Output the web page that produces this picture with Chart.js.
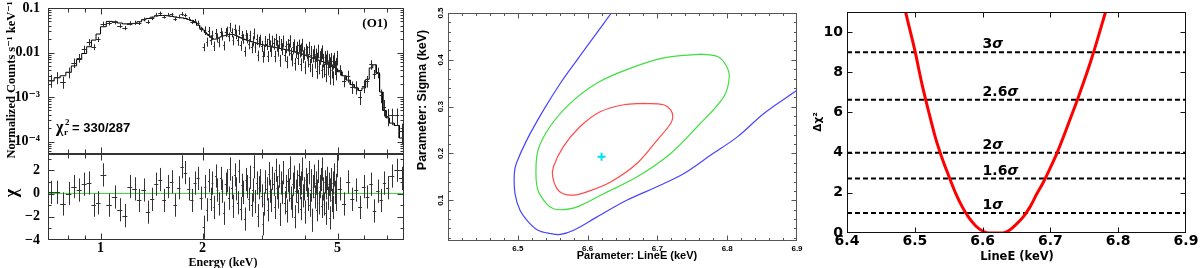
<!DOCTYPE html>
<html><head><meta charset="utf-8">
<script src="https://cdn.jsdelivr.net/npm/chart.js@4/dist/chart.umd.min.js"></script>
<style>
html,body{margin:0;padding:0;background:#fff;}
#wrap{position:relative;width:1200px;height:268px;overflow:hidden;background:#fff;}
canvas{position:absolute;}
</style></head><body>
<div id="wrap">
<canvas id="c2" width="410" height="114" style="left:0;top:154px;"></canvas>
<canvas id="c1" width="410" height="168" style="left:0;top:0;"></canvas>
<canvas id="c3" width="400" height="268" style="left:410px;top:0;"></canvas>
<canvas id="c4" width="390" height="268" style="left:810px;top:0;"></canvas>
</div>
<script>
// ---------------- DATA ----------------
// Panel 1: spectrum bins (keV edges)
const binEdges = [0.70,0.73,0.76,0.79,0.82,0.85,0.88,0.91,0.94,0.97,
 1.00,1.04,1.08,1.12,1.16,1.20,1.24,1.28,1.32,1.36,1.40,1.44,1.48,1.52,1.56,1.60,1.64,1.68,1.72,1.76,1.80,1.84,1.88,1.92,1.96,
 2.000,2.025,2.050,2.075,2.100,2.125,2.150,2.175,2.200,2.225,
 2.250,2.275,2.300,2.325,2.350,2.375,2.400,2.425,2.450,2.475,
 2.500,2.525,2.550,2.575,2.600,2.625,2.650,2.675,2.700,2.725,
 2.750,2.775,2.800,2.825,2.850,2.875,2.900,2.925,2.950,2.975,
 3.000,3.025,3.050,3.075,3.100,3.125,3.150,3.175,3.200,3.225,
 3.250,3.275,3.300,3.325,3.350,3.375,3.400,3.425,3.450,3.475,
 3.500,3.525,3.550,3.575,3.600,3.625,3.650,3.675,3.700,3.725,
 3.750,3.775,3.800,3.825,3.850,3.875,3.900,3.925,3.950,3.975,
 4.000,4.025,4.050,4.075,4.100,4.125,4.150,4.175,4.200,4.225,
 4.250,4.275,4.300,4.325,4.350,4.375,4.400,4.425,4.450,4.475,
 4.500,4.525,4.550,4.575,4.600,4.625,4.650,4.675,4.700,4.725,
 4.750,4.775,4.800,4.825,4.850,4.875,4.900,4.925,4.950,4.975,
 5.00,5.15,5.30,5.45,5.60,5.75,5.90,6.05,6.20,6.35,6.50,6.65,6.80,6.95,
 7.10,7.35,7.60,7.85];
// model (counts s^-1 keV^-1), one per bin
const modelFlux = [2.3e-3,2.7e-3,3.0e-3,3.6e-3,5.0e-3,7.0e-3,9.5e-3,0.0135,0.019,0.026,
 0.038,0.050,0.049,0.046,0.044,0.043,0.045,0.049,0.054,0.058,0.062,0.066,0.068,0.068,0.067,0.065,0.063,0.061,0.060,0.058,0.055,0.052,0.047,0.041,0.035,
 0.032,0.028,0.026,0.024,0.022,0.0205,0.020,0.020,0.0205,0.0215,
 0.0225,0.0232,0.0238,0.0243,0.0248,0.0252,0.0255,0.0255,0.0252,0.0247,
 0.0240,0.0231,0.0224,0.0216,0.0209,0.0202,0.0197,0.0192,0.0187,0.0183,
 0.0179,0.0175,0.0172,0.0168,0.0165,0.0162,0.0159,0.0156,0.0153,0.0151,
 0.0149,0.0147,0.0144,0.0142,0.0140,0.0138,0.0137,0.0135,0.0134,0.0132,
 0.0131,0.0129,0.0128,0.0126,0.0125,0.0123,0.0122,0.0121,0.0120,0.0118,
 0.0117,0.0115,0.0114,0.0112,0.0111,0.0109,0.0108,0.0106,0.0105,0.0103,
 0.0102,0.0100,0.0099,0.0098,0.0097,0.0095,0.0094,0.0092,0.0091,0.0089,
 0.0088,0.0086,0.0085,0.0083,0.0082,0.0080,0.0079,0.0077,0.0076,0.0074,
 0.0073,0.0072,0.0071,0.0070,0.0069,0.0068,0.0067,0.0066,0.0065,0.0064,
 0.0063,0.0062,0.0061,0.0060,0.0059,0.0057,0.0056,0.0055,0.0054,0.0053,
 0.0052,0.0051,0.0050,0.0049,0.0048,0.0047,0.0046,0.0045,0.0044,0.0043,
 0.0037,0.0030,0.0024,0.0019,0.0016,0.0014,0.0016,0.0025,0.0045,0.0053,0.0034,0.0013,5.0e-4,3.4e-4,
 2.6e-4,2.3e-4,1.2e-4];
// observed data points
const obsFlux = [2.37e-3,2.78e-3,2.19e-3,3.6e-3,5.9e-3,7.6e-3,0.0118,0.0171,0.0133,0.0198,
 0.0441,0.045,0.0475,0.0396,0.0356,0.0456,0.0468,0.0461,0.0556,0.0487,0.0589,0.0713,0.0762,0.0639,0.071,0.0715,0.0567,0.0641,0.0738,0.0684,0.0572,0.0489,0.0512,0.0463,0.0336,
 0.0134,0.0317,0.0176,0.0303,0.0194,0.0249,0.0142,0.0272,0.0219,0.0170,
 0.0292,0.0243,0.0145,0.0288,0.0311,0.0229,0.0378,0.0284,0.0188,0.0342,
 0.0263,0.0187,0.0326,0.0146,0.0246,0.0207,0.0108,0.0252,0.0216,0.0159,
 0.0244,0.0130,0.0185,0.0272,0.0134,0.0201,0.0087,0.0177,0.0198,0.0143,
 0.0082,0.0110,0.0184,0.0158,0.0085,0.0206,0.0145,0.0112,0.0185,0.0163,
 0.0085,0.0204,0.0147,0.0115,0.0181,0.0068,0.0155,0.0125,0.0185,0.0090,
 0.0138,0.0063,0.0153,0.0122,0.0187,0.0096,0.0071,0.0132,0.0151,0.0057,
 0.0108,0.0132,0.0077,0.0148,0.0113,0.0056,0.0121,0.0154,0.0085,0.0100,
 0.0048,0.0119,0.0105,0.0069,0.0131,0.0054,0.0087,0.0105,0.0042,0.0089,
 0.0109,0.0065,0.0092,0.0039,0.0074,0.0112,0.0049,0.0080,0.0092,0.0040,
 0.0108,0.0070,0.0042,0.0080,0.0033,0.0067,0.0082,0.0047,0.0069,0.0029,
 0.0058,0.0072,0.0040,0.0064,0.0028,0.0073,0.0048,0.0037,0.0055,0.0080,
 0.0041,0.0023,0.0030,0.0017,0.0017,0.0010,0.0018,0.0023,0.0054,0.0033,0.0036,0.0011,6.1e-4,3.8e-4,
 3.9e-4,3.9e-4,1.7e-4];
// relative 1-sigma errors of data points
const fluxRelErr = [0.32,0.30,0.30,0.27,0.24,0.22,0.20,0.17,0.15,0.13,
 0.12,0.10,0.10,0.11,0.11,0.11,0.11,0.10,0.10,0.10,0.09,0.09,0.09,0.09,0.09,0.09,0.10,0.10,0.10,0.10,0.10,0.11,0.11,0.12,0.13,
 0.20,0.22,0.23,0.24,0.24,0.24,0.24,0.24,0.23,0.23,
 0.23,0.23,0.23,0.23,0.23,0.23,0.23,0.23,0.23,0.24,
 0.24,0.24,0.24,0.25,0.25,0.25,0.25,0.26,0.26,0.26,
 0.26,0.26,0.26,0.27,0.27,0.27,0.27,0.27,0.27,0.28,
 0.28,0.28,0.28,0.28,0.28,0.29,0.29,0.29,0.29,0.29,
 0.29,0.29,0.29,0.30,0.30,0.30,0.30,0.30,0.30,0.30,
 0.30,0.30,0.31,0.31,0.31,0.31,0.31,0.31,0.31,0.31,
 0.31,0.32,0.32,0.32,0.32,0.32,0.32,0.32,0.32,0.32,
 0.32,0.32,0.33,0.33,0.33,0.33,0.33,0.33,0.33,0.33,
 0.33,0.33,0.33,0.34,0.34,0.34,0.34,0.34,0.34,0.34,
 0.34,0.34,0.34,0.34,0.35,0.35,0.35,0.35,0.35,0.35,
 0.35,0.35,0.35,0.35,0.35,0.35,0.35,0.36,0.36,0.36,
 0.26,0.28,0.30,0.31,0.33,0.34,0.32,0.29,0.24,0.23,0.27,0.34,0.40,0.42,
 0.40,0.42,0.48];
// residuals (chi)
const chiResid = [0.1,0.1,-0.9,0.0,0.6,0.3,0.8,0.9,-1.0,-0.8,
 1.6,-1.0,-0.3,-1.4,-1.9,0.6,0.4,-0.6,0.3,-1.6,-0.5,0.8,1.2,-0.6,0.6,1.0,-1.0,0.5,2.3,1.8,0.4,-0.6,0.9,1.3,-0.4,
 -2.9,0.6,-1.4,1.1,-0.5,0.9,-1.2,1.5,0.3,-0.9,
 1.3,0.2,-1.7,0.8,1.1,-0.4,2.1,0.5,-1.1,1.6,
 0.4,-0.8,1.9,-1.3,0.7,0.1,-2.2,1.2,0.6,-0.5,
 1.4,-1.0,0.3,2.3,-0.7,0.9,-1.9,0.5,1.1,-0.2,
 -2.6,-0.9,1.0,0.4,-1.4,1.7,0.2,-0.6,1.3,0.8,
 -1.2,2.0,0.5,-0.3,1.5,-1.8,0.9,0.1,1.8,-0.8,
 0.6,-1.5,1.1,0.3,2.2,-0.4,-1.1,0.8,1.4,-2.0,
 0.2,1.0,-0.7,1.6,0.5,-1.3,0.9,2.1,-0.2,0.4,
 -1.6,1.2,0.7,-0.5,1.8,-1.0,0.3,1.1,-2.3,0.6,
 1.5,-0.3,0.9,-1.4,0.2,1.9,-0.8,0.6,1.2,-1.1,
 2.1,0.4,-0.9,1.0,-1.7,0.5,1.3,-0.4,0.8,-2.1,
 0.3,1.2,-0.6,0.9,-1.2,1.6,0.1,-0.5,0.7,2.4,
 0.4,-0.9,1.0,-0.5,0.3,-1.2,0.6,-0.3,0.8,-1.5,0.2,-0.6,0.9,0.5,
 1.5,2.0,1.3];
const specXTicks = [1,2,5], specXLabels = ['1','2','5'];
const specXMinor = [0.8,0.9,3,4,6,7];
const specYTicks = [1e-4,1e-3,1e-2,1e-1], specYLabels = ['10\u207B\u2074','10\u207B\u00B3','0.01','0.1'];
const residYTicks = [-4,-2,0,2], residYLabels = ['\u22124','\u22122','0','2'];
const residYMinor = [-3,-1,1,3];

// Panel 2: confidence contours (LineE keV, Sigma keV)
const blueE = [6.634,6.613,6.585,6.561,6.537,6.513,6.498,6.495,6.496,6.503,6.515,6.529,6.546,6.561,6.580,6.613,6.656,6.704,6.738,6.776,6.815,6.853,6.901];
const blueS = [0.500,0.457,0.400,0.350,0.293,0.229,0.179,0.157,0.114,0.079,0.054,0.036,0.029,0.027,0.036,0.064,0.100,0.132,0.157,0.196,0.236,0.286,0.336];
const greenE = [6.762,6.709,6.656,6.613,6.575,6.546,6.529,6.526,6.529,6.541,6.551,6.565,6.585,6.623,6.671,6.719,6.757,6.795,6.803,6.798,6.786,6.762];
const greenS = [0.412,0.404,0.379,0.350,0.307,0.257,0.207,0.157,0.121,0.093,0.082,0.080,0.086,0.114,0.150,0.200,0.257,0.321,0.364,0.389,0.407,0.412];
const redE = [6.680,6.652,6.618,6.589,6.565,6.551,6.550,6.556,6.565,6.580,6.599,6.633,6.671,6.700,6.719,6.722,6.719,6.709,6.680];
const redS = [0.307,0.304,0.289,0.257,0.214,0.171,0.150,0.125,0.114,0.111,0.118,0.139,0.179,0.229,0.264,0.279,0.293,0.304,0.307];
const bestE = [6.62], bestS = [0.193];
const contXTicks = [6.5,6.6,6.7,6.8,6.9], contXLabels = ['6.5','6.6','6.7','6.8','6.9'];
const contYTicks = [0.1,0.2,0.3,0.4,0.5], contYLabels = ['0.1','0.2','0.3','0.4','0.5'];

// Panel 3: delta chi^2 vs LineE
const scanE = [6.485,6.49,6.50,6.51,6.52,6.53,6.54,6.55,6.56,6.57,6.58,6.59,6.60,6.61,6.62,6.63,6.64,6.65,6.66,6.67,6.68,6.69,6.70,6.71,6.72,6.73,6.74,6.75,6.76,6.77,6.78,6.785];
const scanD = [11.2,10.5,9.1,7.5,6.1,4.8,3.75,2.85,2.0,1.3,0.75,0.35,0.1,0.0,0.0,0.0,0.15,0.45,0.8,1.3,1.95,2.55,3.25,4.0,4.85,5.75,6.65,7.6,8.6,9.7,10.85,11.4];
const sigmaLevels = [1,2.71,4,6.63,9];
const sigmaNames = ['1','1.6','2','2.6','3'];
const dchiXTicks = [6.4,6.5,6.6,6.7,6.8,6.9], dchiXLabels = ['6.4','6.5','6.6','6.7','6.8','6.9'];
const dchiYTicks = [0,2,4,6,8,10], dchiYLabels = ['0','2','4','6','8','10'];

// ---------------- HELPERS ----------------
Chart.defaults.animation = false;
Chart.defaults.responsive = false;
Chart.defaults.devicePixelRatio = 1;
Chart.defaults.plugins.legend.display = false;
Chart.defaults.plugins.tooltip.enabled = false;
Chart.defaults.events = [];
Chart.defaults.color = '#000';

const setTicks = vals => ax => { ax.ticks = vals.map(v => ({value: v})); };
const seq = (a, b, s) => { const r = []; for (let v = a; v <= b + 1e-9; v += s) r.push(+v.toFixed(6)); return r; };
const fitW = w => s => { s.width = w; s.paddingTop = 0; s.paddingBottom = 0; s.paddingLeft = 0; s.paddingRight = 0; };
const fitH = h => s => { s.height = h; s.paddingTop = 0; s.paddingBottom = 0; s.paddingLeft = 0; s.paddingRight = 0; };

const frameTicks = {
  id: 'frameTicks',
  afterDatasetsDraw(chart, args, o) {
    if (!o || !o.on) return;
    const {ctx, chartArea: a} = chart;
    const xs = chart.scales.x, ys = chart.scales.y;
    const L = Math.round(a.left) + 0.5, R = Math.round(a.right) - 0.5, T = Math.round(a.top) + 0.5, B = Math.round(a.bottom) - 0.5;
    ctx.save();
    ctx.strokeStyle = o.color; ctx.lineWidth = o.lw || 1;
    ctx.beginPath();
    for (const t of o.xt) for (const v of t.v) {
      const p = Math.round(xs.getPixelForValue(v)) + 0.5;
      if (p < L - 0.6 || p > R + 0.6) continue;
      ctx.moveTo(p, B); ctx.lineTo(p, B - t.len);
      ctx.moveTo(p, T); ctx.lineTo(p, T + t.len);
    }
    for (const t of o.yt) for (const v of t.v) {
      const p = Math.round(ys.getPixelForValue(v)) + 0.5;
      if (p < T - 0.6 || p > B + 0.6) continue;
      ctx.moveTo(L, p); ctx.lineTo(L + t.len, p);
      ctx.moveTo(R, p); ctx.lineTo(R - t.len, p);
    }
    ctx.stroke();
    ctx.strokeRect(L, T, R - L, B - T);
    ctx.restore();
  }
};

const errBars = {
  id: 'errBars',
  afterDatasetsDraw(chart, args, o) {
    if (!o || !o.on) return;
    const {ctx, chartArea: a} = chart;
    const x = chart.scales.x, y = chart.scales.y;
    const pts = chart.data.datasets[0].data;
    ctx.save();
    ctx.beginPath(); ctx.rect(a.left, a.top, a.right - a.left, a.bottom - a.top); ctx.clip();
    ctx.strokeStyle = o.color; ctx.lineWidth = 1;
    ctx.beginPath();
    for (const p of pts) {
      const xc = Math.round(x.getPixelForValue(p.x)) + 0.5;
      const yc = Math.round(y.getPixelForValue(p.y)) + 0.5;
      ctx.moveTo(x.getPixelForValue(p.lo), yc); ctx.lineTo(x.getPixelForValue(p.hi), yc);
      ctx.moveTo(xc, y.getPixelForValue(p.y + p.e)); ctx.lineTo(xc, y.getPixelForValue(p.y - p.e));
    }
    ctx.stroke();
    ctx.restore();
  }
};

function rotText(ctx, txt, x, y, font) {
  ctx.save(); ctx.translate(x, y); ctx.rotate(-Math.PI / 2);
  ctx.font = font; ctx.textAlign = 'center'; ctx.textBaseline = 'middle';
  ctx.fillText(txt, 0, 0); ctx.restore();
}

const binsLo = binEdges.slice(0, -1), binsHi = binEdges.slice(1);
const serif = '"Liberation Serif", "DejaVu Serif", serif';
const sans = '"Liberation Sans", Arial, sans-serif';

// ---------------- PANEL 1 TOP: spectrum ----------------
const specPts = obsFlux.map((f, i) => ({x: (binsLo[i] + binsHi[i]) / 2, y: f, lo: binsLo[i], hi: binsHi[i], e: f * fluxRelErr[i]}));
const modelPts = [];
modelFlux.forEach((m, i) => { modelPts.push({x: binsLo[i], y: m}, {x: binsHi[i], y: m}); });

new Chart(document.getElementById('c1'), {
  type: 'scatter',
  data: {datasets: [
    {data: specPts, pointRadius: 0, showLine: false},
    {data: modelPts, showLine: true, borderColor: '#000', borderWidth: 1, pointRadius: 0, tension: 0}
  ]},
  options: {
    layout: {padding: {left: 0, top: 8, right: 6, bottom: 14}},
    scales: {
      x: {type: 'logarithmic', min: 0.7, max: 7.85, display: false},
      y: {type: 'logarithmic', min: 5.25e-5, max: 0.1,
          afterFit: fitW(48),
          afterBuildTicks: setTicks(specYTicks),
          grid: {display: false, drawTicks: false}, border: {display: false},
          ticks: {autoSkip: false, padding: 8, font: {family: serif, size: 14, weight: 'bold'}, callback: (v, i) => specYLabels[i]}}
    },
    plugins: {
      frameTicks: {on: true, color: '#333',
        xt: [{v: specXTicks, len: 6}, {v: specXMinor, len: 4}],
        yt: [{v: specYTicks, len: 6}, {v: [6e-5,7e-5,8e-5,9e-5,2e-4,3e-4,4e-4,5e-4,6e-4,7e-4,8e-4,9e-4,2e-3,3e-3,4e-3,5e-3,6e-3,7e-3,8e-3,9e-3,0.02,0.03,0.04,0.05,0.06,0.07,0.08,0.09], len: 3}]},
      errBars: {on: true, color: '#2a2a2a'}
    }
  },
  plugins: [frameTicks, errBars, {
    id: 'txt1',
    afterDraw(chart) {
      const ctx = chart.ctx;
      ctx.save();
      ctx.fillStyle = '#000';
      rotText(ctx, 'Normalized Counts s\u207B\u00B9 keV\u207B\u00B9', 12, 80, 'bold 12.5px ' + serif);
      ctx.font = 'bold 13px ' + serif; ctx.textAlign = 'center'; ctx.textBaseline = 'middle';
      ctx.fillText('(O1)', 375, 24);
      ctx.textAlign = 'left'; ctx.textBaseline = 'alphabetic';
      ctx.font = 'bold 16px ' + serif; ctx.fillText('\u03C7', 56, 132);
      ctx.font = 'bold 9px ' + serif; ctx.fillText('r', 64, 135); ctx.fillText('2', 65, 125);
      ctx.font = 'bold 13px ' + sans; ctx.fillText('= 330/287', 72, 132);
      ctx.restore();
    }
  }]
});

// ---------------- PANEL 1 BOTTOM: residuals ----------------
const residPts = chiResid.map((r, i) => ({x: (binsLo[i] + binsHi[i]) / 2, y: r, lo: binsLo[i], hi: binsHi[i], e: 1}));
new Chart(document.getElementById('c2'), {
  type: 'scatter',
  data: {datasets: [
    {data: residPts, pointRadius: 0, showLine: false},
    {data: [{x: 0.7, y: 0}, {x: 7.85, y: 0}], showLine: true, borderColor: '#3ddc3d', borderWidth: 1, pointRadius: 0}
  ]},
  options: {
    layout: {padding: {left: 0, top: 0, right: 6, bottom: 0}},
    scales: {
      x: {type: 'logarithmic', min: 0.7, max: 7.85,
          afterFit: fitH(28),
          afterBuildTicks: setTicks(specXTicks),
          grid: {display: false, drawTicks: false}, border: {display: false},
          ticks: {autoSkip: false, maxRotation: 0, padding: 0, font: {family: serif, size: 14, weight: 'bold'}, callback: (v, i) => specXLabels[i]}},
      y: {type: 'linear', min: -4, max: 3.4,
          afterFit: fitW(48),
          afterBuildTicks: setTicks(residYTicks),
          grid: {display: false, drawTicks: false}, border: {display: false},
          ticks: {autoSkip: false, padding: 8, font: {family: serif, size: 14, weight: 'bold'}, callback: (v, i) => residYLabels[i]}}
    },
    plugins: {
      frameTicks: {on: true, color: '#333',
        xt: [{v: specXTicks, len: 6}, {v: specXMinor, len: 4}],
        yt: [{v: residYTicks, len: 6}, {v: residYMinor, len: 3}]},
      errBars: {on: true, color: '#333'}
    }
  },
  plugins: [frameTicks, errBars, {
    id: 'txt2',
    afterDraw(chart) {
      const ctx = chart.ctx;
      ctx.save(); ctx.fillStyle = '#000';
      rotText(ctx, '\u03C7', 12, 39, 'bold 18px ' + serif);
      ctx.font = 'bold 12px ' + serif; ctx.textAlign = 'center'; ctx.textBaseline = 'middle';
      ctx.fillText('Energy (keV)', 223, 109);
      ctx.restore();
    }
  }]
});

// ---------------- PANEL 2: contours ----------------
const toPts = (ex, sy) => ex.map((e, i) => ({x: e, y: sy[i]}));
new Chart(document.getElementById('c3'), {
  type: 'scatter',
  data: {datasets: [
    {data: toPts(bestE, bestS), pointStyle: 'cross', pointRadius: 4, borderColor: '#00e0f0', borderWidth: 2, showLine: false},
    {data: toPts(redE, redS), showLine: true, borderColor: '#ff4a4a', borderWidth: 1.2, pointRadius: 0, tension: 0.35},
    {data: toPts(greenE, greenS), showLine: true, borderColor: '#3fdf3f', borderWidth: 1.2, pointRadius: 0, tension: 0.35},
    {data: toPts(blueE, blueS), showLine: true, borderColor: '#4545ff', borderWidth: 1.2, pointRadius: 0, tension: 0.35}
  ]},
  options: {
    layout: {padding: {left: 0, top: 13, right: 13, bottom: 0}},
    scales: {
      x: {type: 'linear', min: 6.4, max: 6.9,
          afterFit: fitH(27),
          afterBuildTicks: setTicks(contXTicks),
          grid: {display: false, drawTicks: false}, border: {display: false},
          ticks: {autoSkip: false, maxRotation: 0, padding: 3, font: {family: sans, size: 8, weight: 'bold'}, callback: (v, i) => contXLabels[i]}},
      y: {type: 'linear', min: 0.013, max: 0.5,
          afterFit: fitW(38),
          afterBuildTicks: setTicks(contYTicks),
          grid: {display: false, drawTicks: false}, border: {display: false},
          ticks: {display: false}}
    },
    plugins: {
      frameTicks: {on: true, color: '#555',
        xt: [{v: [6.4].concat(contXTicks), len: 5}, {v: seq(6.42, 6.88, 0.02).filter(v => Math.round(v * 100) % 10 !== 0), len: 2.5}],
        yt: [{v: contYTicks, len: 5}, {v: seq(0.02, 0.48, 0.02).filter(v => Math.round(v * 100) % 10 !== 0), len: 2.5}]}
    }
  },
  plugins: [frameTicks, {
    id: 'txt3',
    afterDraw(chart) {
      const ctx = chart.ctx, ys = chart.scales.y;
      ctx.save(); ctx.fillStyle = '#000';
      contYTicks.forEach((v, i) => rotText(ctx, contYLabels[i], 31, ys.getPixelForValue(v), 'bold 8px ' + sans));
      rotText(ctx, 'Parameter: Sigma (keV)', 13, 100, 'bold 12.5px ' + sans);
      ctx.font = 'bold 11px ' + sans; ctx.textAlign = 'center'; ctx.textBaseline = 'middle';
      ctx.fillText('Parameter: LineE (keV)', 227, 256);
      ctx.restore();
    }
  }]
});

// ---------------- PANEL 3: delta chi^2 ----------------
const dj = '"DejaVu Sans", sans-serif';
const levelSets = sigmaLevels.map(v => ({data: [{x: 6.4, y: v}, {x: 6.9, y: v}], showLine: true, borderColor: '#000', borderWidth: 2, borderDash: [5, 3], pointRadius: 0}));
new Chart(document.getElementById('c4'), {
  type: 'scatter',
  data: {datasets: [
    {data: toPts(scanE, scanD), showLine: true, borderColor: '#ff0000', borderWidth: 3, pointRadius: 0, cubicInterpolationMode: 'monotone'}
  ].concat(levelSets)},
  options: {
    layout: {padding: {left: 0, top: 12, right: 14, bottom: 0}},
    scales: {
      x: {type: 'linear', min: 6.4, max: 6.9,
          afterFit: fitH(35),
          afterBuildTicks: setTicks(dchiXTicks),
          grid: {display: false, drawTicks: false}, border: {display: false},
          ticks: {autoSkip: false, maxRotation: 0, padding: 0, font: {family: dj, size: 14, weight: 'bold'}, callback: (v, i) => dchiXLabels[i]}},
      y: {type: 'linear', min: 0, max: 11,
          afterFit: fitW(37),
          afterBuildTicks: setTicks(dchiYTicks),
          grid: {display: false, drawTicks: false}, border: {display: false},
          ticks: {autoSkip: false, padding: 4, font: {family: dj, size: 14, weight: 'bold'}, callback: (v, i) => dchiYLabels[i]}}
    },
    plugins: {
      frameTicks: {on: true, color: '#111', xt: [{v: dchiXTicks, len: 5}], yt: [{v: dchiYTicks, len: 5}]}
    }
  },
  plugins: [frameTicks, {
    id: 'txt4',
    afterDraw(chart) {
      const ctx = chart.ctx, xs = chart.scales.x, ys = chart.scales.y;
      ctx.save(); ctx.fillStyle = '#000'; ctx.textBaseline = 'alphabetic'; ctx.textAlign = 'left';
      sigmaLevels.forEach((v, i) => {
        const x = xs.getPixelForValue(6.6), y = ys.getPixelForValue(v) - 4;
        ctx.font = 'bold 14px ' + dj; ctx.fillText(sigmaNames[i], x, y);
        const w = ctx.measureText(sigmaNames[i]).width;
        ctx.font = 'italic bold 14px ' + dj; ctx.fillText('\u03C3', x + w, y);
      });
      rotText(ctx, '\u0394\u03C7\u00B2', 8, 122, 'bold 10.5px ' + dj);
      ctx.font = 'bold 11.5px ' + dj; ctx.textAlign = 'center'; ctx.textBaseline = 'middle';
      ctx.fillText('LineE (keV)', 207, 257);
      ctx.restore();
    }
  }]
});
</script>
</body></html>
